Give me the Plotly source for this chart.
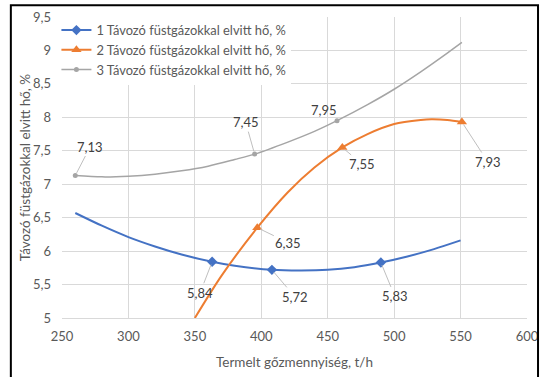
import plotly.graph_objects as go

# Curve points (t/h, %)
s1_x = [260, 280, 300, 320, 340, 363, 380, 408, 430, 450, 470, 490, 510, 530, 550]
s1_y = [6.57, 6.38, 6.21, 6.07, 5.95, 5.84, 5.78, 5.72, 5.71, 5.72, 5.76, 5.83, 5.92, 6.03, 6.16]
s2_x = [350, 370, 397, 420, 440, 461, 480, 500, 520, 528, 540, 551]
s2_y = [5.00, 5.63, 6.35, 6.88, 7.25, 7.55, 7.75, 7.90, 7.96, 7.97, 7.96, 7.93]
s3_x = [260, 280, 300, 320, 340, 360, 380, 395, 420, 440, 457, 480, 500, 520, 540, 551]
s3_y = [7.13, 7.11, 7.12, 7.15, 7.20, 7.27, 7.37, 7.45, 7.63, 7.79, 7.95, 8.19, 8.42, 8.68, 8.96, 9.12]

# Marked (labelled) points
m1_x = [363, 408, 490]
m1_y = [5.84, 5.72, 5.83]
m2_x = [397, 461, 551]
m2_y = [6.35, 7.55, 7.93]
m3_x = [260, 395, 457]
m3_y = [7.13, 7.45, 7.95]

names = ["1 Távozó füstgázokkal elvitt hő, %",
         "2 Távozó füstgázokkal elvitt hő, %",
         "3 Távozó füstgázokkal elvitt hő, %"]
x_ticks = [250, 300, 350, 400, 450, 500, 550, 600]
y_ticks = [5, 5.5, 6, 6.5, 7, 7.5, 8, 8.5, 9, 9.5]
x_title = "Termelt gőzmennyiség, t/h"
y_title = "Távozó füstgázokkal elvitt hő, %"

colors = ["#4472C4", "#ED7D31", "#A5A5A5"]
symbols = ["diamond", "triangle-up", "circle"]
msizes = [8, 9, 5]
widths = [2, 2, 1.5]

FONT = "Lato"
TXT = "#595959"

fig = go.Figure()
curves = [(s1_x, s1_y), (s2_x, s2_y), (s3_x, s3_y)]
marks = [(m1_x, m1_y), (m2_x, m2_y), (m3_x, m3_y)]
for i in range(3):
    fig.add_trace(go.Scatter(x=curves[i][0], y=curves[i][1], mode="lines",
                             line=dict(color=colors[i], width=widths[i], shape="spline", smoothing=0.8),
                             showlegend=False, hoverinfo="skip"))
    fig.add_trace(go.Scatter(x=marks[i][0], y=marks[i][1], mode="markers",
                             marker=dict(color=colors[i], symbol=symbols[i], size=msizes[i]),
                             showlegend=False, cliponaxis=False))
    fig.add_trace(go.Scatter(x=[None], y=[None], mode="lines+markers", name=names[i],
                             line=dict(color=colors[i], width=widths[i]),
                             marker=dict(color=colors[i], symbol=symbols[i], size=msizes[i])))

# label offsets (pixels) for data labels
offsets = {
    (260, 7.13): (15, -29, True),
    (395, 7.45): (-9, -32, True),
    (457, 7.95): (-13, -11, False),
    (461, 7.55): (20, 17, True),
    (551, 7.93): (26, 40, True),
    (397, 6.35): (31, 15, True),
    (363, 5.84): (-12, 31, True),
    (408, 5.72): (23, 27, True),
    (490, 5.83): (14, 34, True),
}
for (xx, yy), (dx, dy, arrow) in offsets.items():
    label = f"{yy:.2f}".replace(".", ",")
    if arrow:
        fig.add_annotation(x=xx, y=yy, text=label, showarrow=True, ax=dx, ay=dy,
                           arrowhead=0, arrowwidth=1, arrowcolor="#BFBFBF", standoff=3,
                           font=dict(family=FONT, size=13, color="#404040"))
    else:
        fig.add_annotation(x=xx, y=yy, text=label, showarrow=False, xshift=dx, yshift=-dy,
                           font=dict(family=FONT, size=13, color="#404040"))

# axis titles
fig.add_annotation(xref="paper", yref="paper", x=0.5, y=-0.146, text=x_title, showarrow=False,
                   xanchor="center", yanchor="middle", font=dict(family=FONT, size=13.5, color=TXT))
fig.add_annotation(xref="paper", yref="paper", x=-0.08, y=0.5, text=y_title, showarrow=False,
                   textangle=-90, xanchor="center", yanchor="middle",
                   font=dict(family=FONT, size=13.5, color=TXT))

# outer frame
fig.add_shape(type="rect", xref="paper", yref="paper", x0=-0.11, x1=1.0237, y0=-0.22, y1=1.039,
              line=dict(color="#000000", width=2), layer="above")

fig.update_layout(
    width=548, height=377,
    margin=dict(l=62, r=21, t=17, b=59),
    paper_bgcolor="white", plot_bgcolor="white",
    font=dict(family=FONT, size=13, color=TXT),
    legend=dict(x=-0.012, y=1.006, xanchor="left", yanchor="top", bgcolor="white",
                font=dict(family=FONT, size=12.9, color=TXT), tracegroupgap=0, itemwidth=30),
    xaxis=dict(range=[250, 600], tickvals=x_ticks, ticktext=[str(t) for t in x_ticks],
               showgrid=True, gridcolor="#D9D9D9", gridwidth=1, zeroline=False,
               showline=True, linecolor="#D9D9D9", mirror=False, ticks="", automargin=False,
               ticklabelstandoff=6,
               tickfont=dict(family=FONT, size=13, color=TXT)),
    yaxis=dict(range=[5, 9.5], tickvals=y_ticks, ticktext=[f"{t:g}".replace(".", ",") for t in y_ticks],
               showgrid=True, gridcolor="#D9D9D9", gridwidth=1, zeroline=False,
               showline=False, ticks="", automargin=False, ticklabelstandoff=10,
               tickfont=dict(family=FONT, size=13, color=TXT)),
)

fig.write_html("out.html", config={"displayModeBar": False},
               post_script="document.body.style.margin='0';document.body.style.overflow='hidden';")
